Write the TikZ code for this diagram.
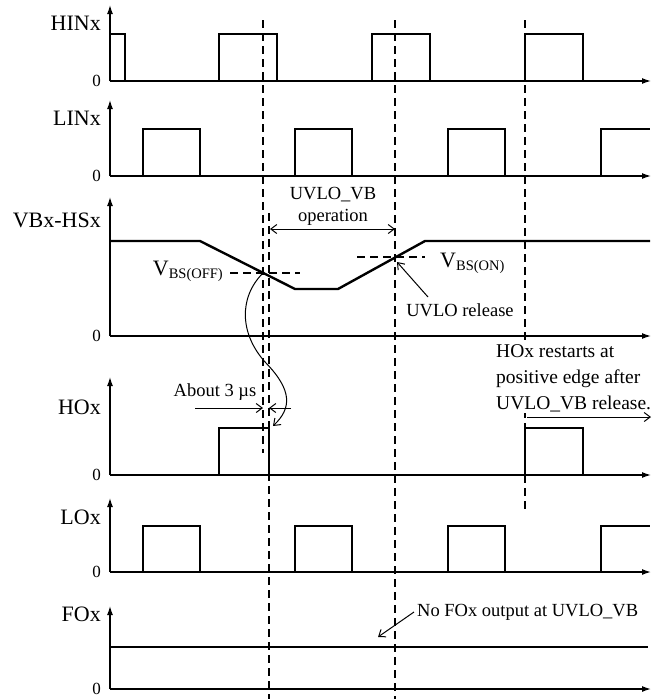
\documentclass[tikz,border=0pt]{standalone}
\usepackage{fontspec}
\setmainfont{Liberation Serif}
\usetikzlibrary{arrows.meta}
\begin{document}
\begin{tikzpicture}[x=1pt,y=-1pt,
  axis/.style={line width=1.3pt,-{Latex[length=9pt,width=6pt]}},
  wave/.style={line width=2.4pt,line join=miter},
  guide/.style={line width=1.4pt,dash pattern=on 8pt off 5pt},
  thinguide/.style={line width=1.1pt,dash pattern=on 8pt off 5pt},
  note/.style={line width=1pt,-{Straight Barb[length=6pt,width=9pt]}},
  dnote/.style={line width=1pt,{Straight Barb[length=6pt,width=9pt]}-{Straight Barb[length=6pt,width=9pt]}},
  lbl/.style={anchor=east,font=\fontsize{22}{22}\selectfont,inner sep=0pt},
  zero/.style={anchor=east,font=\fontsize{17}{17}\selectfont,inner sep=0pt},
  txt/.style={font=\fontsize{18.5}{22}\selectfont,inner sep=0pt}]
\useasboundingbox (0,0) rectangle (656,699);

% axes
\foreach \b/\t in {81/5,176/100,336/197,475/377,572/498,689/606}{
  \draw[axis] (110,\b) -- (110,\t);
  \draw[axis] (110,\b) -- (651,\b);
}
% axis labels
\node[lbl] (lhin) at (101,23) {HINx};
\node[lbl] (llin) at (101,118) {LINx};
\node[lbl] (lvb) at (101,220) {VBx-HSx};
\node[lbl] (lho) at (101,407) {HOx};
\node[lbl] (llo) at (101,517) {LOx};
\node[lbl] (lfo) at (101,614) {FOx};
\node[zero] (z1) at (101,81) {0};
\node[zero] (z2) at (101,176) {0};
\node[zero] (z3) at (101,336) {0};
\node[zero] (z4) at (101,475) {0};
\node[zero] (z5) at (101,572) {0};
\node[zero] (z6) at (101,689) {0};

% guide lines
\draw[guide] (263,20) -- (263,453);
\draw[guide] (269,213) -- (269,699);
\draw[guide] (395,20) -- (395,699);
\draw[guide] (525,20) -- (525,509);

% waveforms
\draw[wave] (110,81)--(110,34)--(125,34)--(125,81)--(219,81)--(219,34)--(277,34)--(277,81)--(372,81)--(372,34)--(430,34)--(430,81)--(525,81)--(525,34)--(583,34)--(583,81)--(640,81);
\draw[wave] (110,176)--(143,176)--(143,129)--(200,129)--(200,176)--(295,176)--(295,129)--(352,129)--(352,176)--(448,176)--(448,129)--(505,129)--(505,176)--(601,176)--(601,129)--(650,129);
\draw[wave] (110,241)--(200,241)--(295,289)--(338,289)--(425,241)--(650,241);
\draw[wave] (110,475)--(219,475)--(219,428)--(269,428)--(269,475)--(525,475)--(525,428)--(583,428)--(583,475)--(640,475);
\draw[wave] (110,572)--(143,572)--(143,526)--(200,526)--(200,572)--(295,572)--(295,526)--(352,526)--(352,572)--(448,572)--(448,526)--(505,526)--(505,572)--(601,572)--(601,526)--(650,526);
\draw[wave] (110,647)--(648,647);

% threshold lines
\draw[thinguide] (230,273) -- (300,273);
\draw[thinguide] (357,257) -- (425,257);
\node[inner sep=0pt,anchor=base east] (voff) at (223,275)
  {{\fontsize{22}{22}\selectfont V}\raisebox{-3pt}{\fontsize{14.5}{14.5}\selectfont BS(OFF)}};
\node[inner sep=0pt,anchor=base west] (von) at (440,267)
  {{\fontsize{22}{22}\selectfont V}\raisebox{-3pt}{\fontsize{14.5}{14.5}\selectfont BS(ON)}};

% UVLO_VB operation
\node[txt] (uv1) at (333,195) {UVLO\_VB};
\node[txt] (uv2) at (333,217) {operation};
\coordinate (opl) at (270,229);
\coordinate (opr) at (395,229);
\draw[dnote] (opl) -- (opr);

% UVLO release
\node[txt] (rel) at (460,310) {UVLO release};
\coordinate (relf) at (428,297);
\coordinate (relt) at (397,262);
\draw[note] (relf) -- (relt);

% About 3 us
\node[txt] (ab) at (215,392) {About 3 µs};
\coordinate (a1f) at (195,408);
\coordinate (a1t) at (263,408);
\coordinate (a2f) at (291,408);
\coordinate (a2t) at (269,408);
\draw[note] (a1f) -- (a1t);
\draw[note] (a2f) -- (a2t);

% curved arrow
\coordinate (cs) at (263,273);
\coordinate (ce) at (273,426);
\draw[note] (cs) .. controls (238,298) and (240,335) .. (266,363)
  .. controls (292,390) and (292,408) .. (ce);

% HOx restarts
\node[font=\fontsize{19.5}{26}\selectfont,align=left,anchor=base west,fill=white,inner xsep=1pt,inner ysep=1.5pt] (rs) at (495,409)
  {HOx restarts at\\positive edge after\\UVLO\_VB release.};
\coordinate (rsf) at (527,417);
\coordinate (rst) at (651,417);
\draw[note] (rsf) -- (rst);

% No FOx output
\node[txt,anchor=west] (nf) at (417,612) {No FOx output at UVLO\_VB};
\coordinate (nft) at (378,637);
\draw[note] (nf.west) ++(-3,0) coordinate (nff) (nff) -- (nft);
\end{tikzpicture}
\end{document}
